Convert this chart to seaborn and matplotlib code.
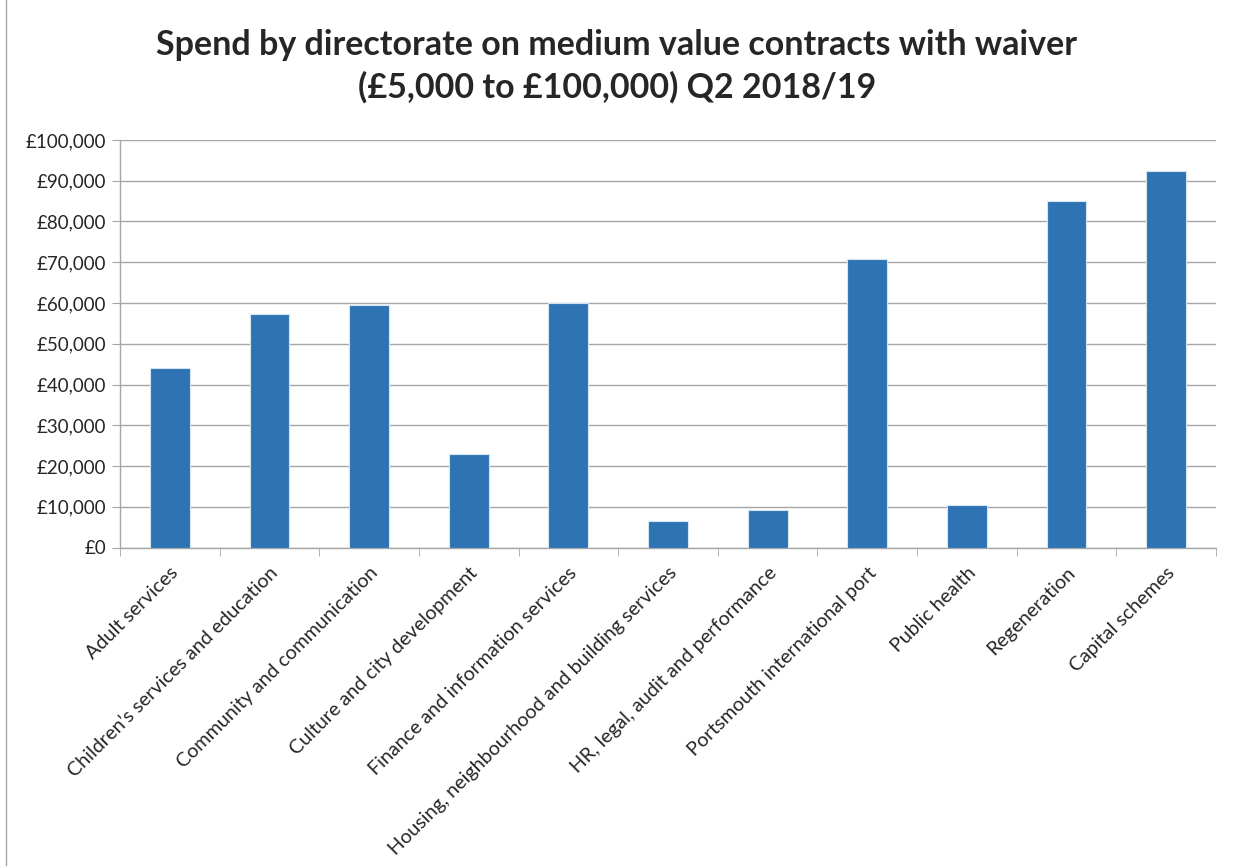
import pandas as pd
import seaborn as sns
import matplotlib

matplotlib.use("Agg")
import matplotlib.pyplot as plt
import matplotlib.ticker as mticker
from matplotlib.patches import Rectangle

# Data.
directorates = [
    "Adult services",
    "Children's services and education",
    "Community and communication",
    "Culture and city development",
    "Finance and information services",
    "Housing, neighbourhood and building services",
    "HR, legal, audit and performance",
    "Portsmouth international port",
    "Public health",
    "Regeneration",
    "Capital schemes",
]
spend = [44000, 57200, 59400, 22900, 60000, 6500, 9200, 70800, 10400, 85000, 92400]
y_ticks = list(range(0, 100001, 10000))

df = pd.DataFrame({"directorate": directorates, "spend": spend})

sns.set_style("white")
plt.rcParams["font.family"] = ["Lato", "DejaVu Sans"]

fig = plt.figure(figsize=(12.34, 8.66), dpi=100)
ax = fig.add_axes([120 / 1234, 1 - 547.5 / 866, 1096 / 1234, 407.5 / 866])

sns.barplot(
    data=df,
    x="directorate",
    y="spend",
    color="#2E74B5",
    width=0.4,
    saturation=1,
    edgecolor="#D6E4F2",
    linewidth=0.8,
    ax=ax,
    zorder=3,
)

ax.set_xlim(-0.5, len(directorates) - 0.5)
ax.set_ylim(0, 100000)
ax.set_yticks(y_ticks)
ax.yaxis.set_major_formatter(mticker.FuncFormatter(lambda v, p: "£{:,.0f}".format(v)))
ax.grid(axis="y", color="#A6A6A6", linewidth=1.0, zorder=0)
ax.set_axisbelow(True)

for side in ["top", "right"]:
    ax.spines[side].set_visible(False)
for side in ["left", "bottom"]:
    ax.spines[side].set_color("#A6A6A6")
    ax.spines[side].set_linewidth(1.0)

ax.tick_params(axis="y", length=6, color="#A6A6A6", labelsize=13.5, pad=4,
               labelcolor="#262626", left=True)
ax.set_xticks(range(len(directorates)))
ax.set_xticklabels(directorates, rotation=45, ha="right", rotation_mode="anchor",
                   fontsize=14.2, color="#262626")
ax.tick_params(axis="x", which="major", length=0, pad=12)
ax.set_xticks([i - 0.5 for i in range(len(directorates) + 1)], minor=True)
ax.tick_params(axis="x", which="minor", length=6, color="#A6A6A6", bottom=True)

ax.set_xlabel("")
ax.set_ylabel("")

fig.text(0.5, 1 - 45 / 866, "Spend by directorate on medium value contracts with waiver",
         ha="center", va="center", fontsize=24.5, fontweight="bold")
fig.text(0.5, 1 - 87 / 866, "(£5,000 to £100,000) Q2 2018/19",
         ha="center", va="center", fontsize=24.5, fontweight="bold")

# chart area border
fig.patches.append(Rectangle((6 / 1234, -0.01), 1.0, 1.02, transform=fig.transFigure,
                             fill=False, edgecolor="#A6A6A6", linewidth=1.0))

fig.savefig("out.png", dpi=100)
plt.close()
